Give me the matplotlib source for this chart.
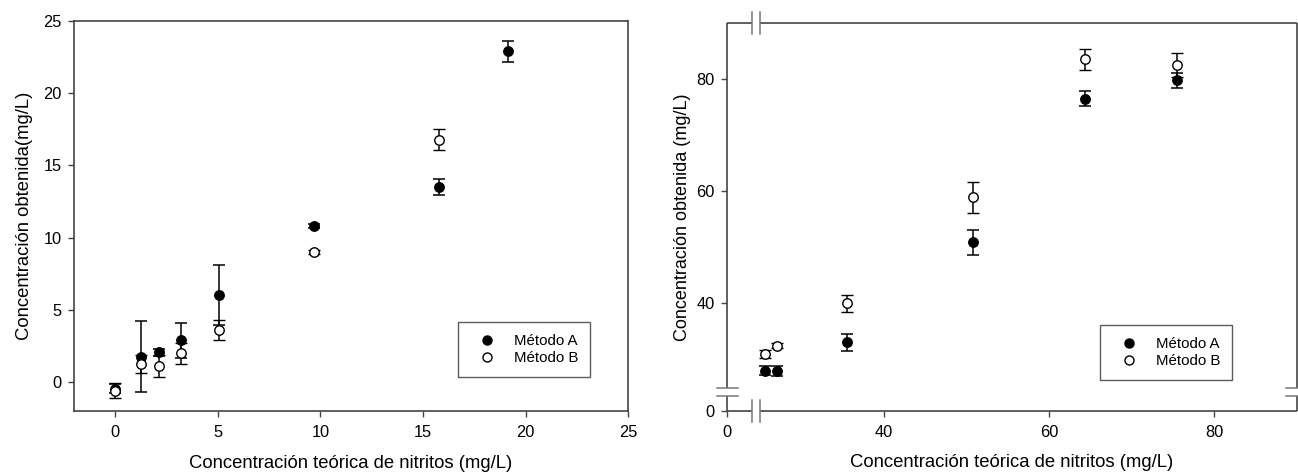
import numpy as np
import matplotlib
matplotlib.use("Agg")
import matplotlib.pyplot as plt
import matplotlib.transforms as mtransforms
from matplotlib.lines import Line2D

plt.rcParams['font.family'] = ['Liberation Sans', 'DejaVu Sans']

# --- datos panel izquierdo (bajas concentraciones) ---
x_izq_A = [0, 1.27, 2.12, 3.21, 5.07, 9.68, 15.76, 19.15]
y_izq_A = [-0.45, 1.75, 2.05, 2.89, 6.03, 10.81, 13.51, 22.89]
e_izq_A = [0.30, 2.45, 0.27, 1.20, 2.05, 0.15, 0.56, 0.70]

x_izq_B = [0, 1.27, 2.12, 3.21, 5.07, 9.68, 15.76]
y_izq_B = [-0.60, 1.25, 1.13, 1.99, 3.60, 9.03, 16.77]
e_izq_B = [0.52, 0.60, 0.78, 0.74, 0.68, 0.15, 0.72]

# --- datos panel derecho (altas concentraciones) ---
x_der = [25.6, 27.1, 35.5, 50.8, 64.4, 75.5]
y_der_A = [28.05, 28.0, 33.05, 50.9, 76.5, 79.8]
e_der_A = [0.8, 0.9, 1.6, 2.25, 1.3, 1.3]
y_der_B = [31.0, 32.5, 40.0, 58.9, 83.5, 82.5]
e_der_B = [0.7, 0.4, 1.45, 2.7, 1.8, 2.2]

xticks_der = [0, 40, 60, 80]
yticks_der = [0, 40, 60, 80]

etiq_A = 'Método A'
etiq_B = 'Método B'

SPINE = '#444444'
MARK = '#777777'
TICK_FS = 11.8
LABEL_FS = 13.3


def axis_break(lo, gap, hi):
    # escala lineal con un tramo [lo, hi] comprimido a un hueco de ancho gap
    def fwd(v):
        v = np.asarray(v, dtype=float)
        return np.where(v <= lo, v,
                        np.where(v >= hi, v - hi + lo + gap,
                                 lo + (v - lo) * gap / (hi - lo)))

    def inv(u):
        u = np.asarray(u, dtype=float)
        return np.where(u <= lo, u,
                        np.where(u >= lo + gap, u - lo - gap + hi,
                                 lo + (u - lo) * (hi - lo) / gap))
    return fwd, inv


def draw_points(ax, xa, ya, ea, xb, yb, eb):
    ax.errorbar(xa, ya, yerr=ea, fmt='o', color='black', ms=6.8,
                elinewidth=1.1, capsize=4.5, capthick=1.1, zorder=3)
    ax.errorbar(xb, yb, yerr=eb, fmt='o', color='black', mfc='white',
                mec='black', mew=1.0, ms=6.8, elinewidth=1.1, capsize=4.5,
                capthick=1.1, zorder=4)


def add_legend(ax, anchor):
    h = [Line2D([], [], ls='none', marker='o', color='black', ms=6.5),
         Line2D([], [], ls='none', marker='o', color='black', mfc='white', ms=6.5)]
    leg = ax.legend(h, [etiq_A, etiq_B], loc='upper left', bbox_to_anchor=anchor,
                    borderaxespad=0, fontsize=10.8, frameon=True, fancybox=False,
                    borderpad=0.8, handlelength=2.2, handletextpad=0.7,
                    labelspacing=0.2)
    leg.get_frame().set_edgecolor('#333333')
    leg.get_frame().set_linewidth(1.0)


def style_ticks(ax):
    ax.tick_params(direction='out', length=4, width=1, colors=SPINE,
                   labelcolor='black', labelsize=TICK_FS)
    ax.tick_params(axis='x', pad=6)
    ax.tick_params(axis='y', pad=5)


fig = plt.figure(figsize=(12.98, 4.73), dpi=100)

# ---------- panel izquierdo ----------
ax1 = fig.add_axes([0.0570, 0.1311, 0.4270, 0.8245])
draw_points(ax1, x_izq_A, y_izq_A, e_izq_A, x_izq_B, y_izq_B, e_izq_B)
ax1.set_xlim(-2, 25)
ax1.set_ylim(-2, 25)
ax1.set_xticks([0, 5, 10, 15, 20, 25])
ax1.set_yticks([0, 5, 10, 15, 20, 25])
for s in ax1.spines.values():
    s.set_color(SPINE)
    s.set_linewidth(1.2)
style_ticks(ax1)
ax1.set_xlabel('Concentración teórica de nitritos (mg/L)', fontsize=LABEL_FS)
ax1.set_ylabel('Concentración obtenida(mg/L)', fontsize=LABEL_FS)
ax1.xaxis.set_label_coords(0.5, -0.112)
ax1.yaxis.set_label_coords(-0.074, 0.5)
add_legend(ax1, (0.693, 0.228))

# ---------- panel derecho (ejes cortados) ----------
xlo, xgap, xhi = 2.96, 1.0, 25
ylo, ygap, yhi = 2.68, 1.48, 25

ax2 = fig.add_axes([0.5603, 0.1311, 0.4387, 0.8203])
ax2.set_xscale('function', functions=axis_break(xlo, xgap, xhi))
ax2.set_yscale('function', functions=axis_break(ylo, ygap, yhi))
draw_points(ax2, x_der, y_der_A, e_der_A, x_der, y_der_B, e_der_B)
ax2.set_xlim(0, 90)
ax2.set_ylim(0, 90)
ax2.set_xticks(xticks_der)
ax2.set_yticks(yticks_der)
ax2.xaxis.set_minor_locator(matplotlib.ticker.NullLocator())
ax2.yaxis.set_minor_locator(matplotlib.ticker.NullLocator())
for s in ax2.spines.values():
    s.set_visible(False)
style_ticks(ax2)

# marco con huecos
kw = dict(color=SPINE, lw=1.2, clip_on=False, solid_capstyle='butt')
for yy in (0, 90):
    ax2.plot([0, xlo], [yy, yy], **kw)
    ax2.plot([xhi, 90], [yy, yy], **kw)
for xx in (0, 90):
    ax2.plot([xx, xx], [0, ylo], **kw)
    ax2.plot([xx, xx], [yhi, 90], **kw)

# marcas de corte
mk = dict(color=MARK, lw=1.1, clip_on=False)
tx = mtransforms.blended_transform_factory(ax2.transData, ax2.transAxes)
ty = mtransforms.blended_transform_factory(ax2.transAxes, ax2.transData)
dy = 10.7 / 388
dx = 10.7 / 569.4
for xb in (xlo, xhi):
    for yb in (0, 1):
        ax2.plot([xb, xb], [yb - dy, yb + dy], transform=tx, **mk)
for yb in (ylo, yhi):
    for xb in (0, 1):
        ax2.plot([xb - dx, xb + dx], [yb, yb], transform=ty, **mk)

ax2.set_xlabel('Concentración teórica de nitritos (mg/L)', fontsize=LABEL_FS)
ax2.set_ylabel('Concentración obtenida (mg/L)', fontsize=LABEL_FS - 0.3)
ax2.xaxis.set_label_coords(0.5, -0.112)
ax2.yaxis.set_label_coords(-0.064, 0.5)
add_legend(ax2, (0.655, 0.222))

fig.savefig('out.png', dpi=100)
